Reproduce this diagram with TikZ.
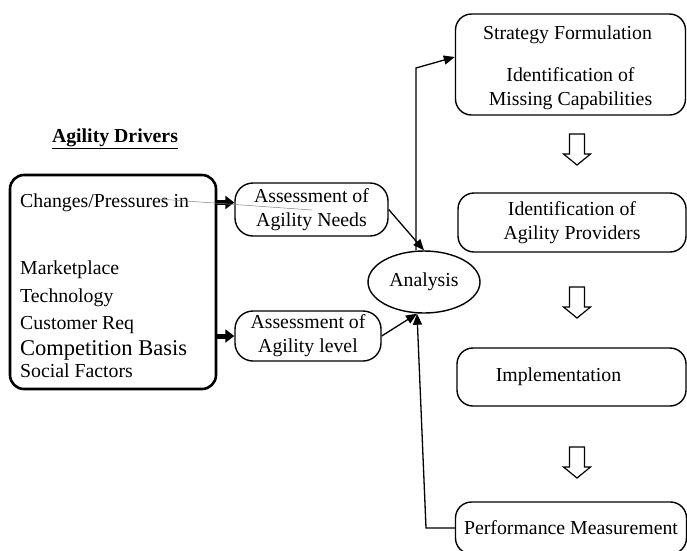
\documentclass[tikz,border=0pt]{standalone}
\usepackage{fontspec}
\setmainfont{Liberation Serif}
\usetikzlibrary{arrows.meta,shapes.geometric}
\begin{document}
\begin{tikzpicture}[x=1pt,y=-1pt,
  txt/.style={font=\fontsize{19.8}{24}\selectfont, inner sep=0pt, anchor=base west},
  bigbox/.style={draw, line width=2.6pt, rounded corners=14pt},
  pill/.style={draw, line width=1.4pt, rounded corners=18pt, align=center,
    font=\fontsize{19.8}{24}\selectfont, inner sep=0pt},
  stage/.style={draw, line width=1.4pt, rounded corners=16pt, align=center,
    font=\fontsize{19.8}{24}\selectfont, inner sep=0pt},
  heavy/.style={line width=5pt, -{Triangle[length=9pt,width=13pt]}},
  feed/.style={line width=1.3pt, -{Triangle[length=11pt,width=9pt]}},
  hollow/.pic={\draw[line width=1.2pt, fill=white, line join=miter]
    (-7.5,0) -- (7.5,0) -- (7.5,20) -- (13.5,20) -- (0,31) -- (-13.5,20) -- (-7.5,20) -- cycle;}
]
\clip (0,0) rectangle (687,550);
\fill[white] (0,0) rectangle (687,550);

% heading
\node[font=\fontsize{19.8}{22}\selectfont\bfseries, inner sep=0pt, anchor=base] (head) at (115,142)
  {\underline{Agility Drivers}};

% agility drivers box and its list
\node[bigbox, minimum width=206pt, minimum height=214pt] (src) at (113,282) {};
\node[txt] (l1) at (20,207) {Changes/Pressures in};
\node[txt] (l2) at (20,274) {Marketplace};
\node[txt] (l3) at (20,302) {Technology};
\node[txt] (l4) at (20,329) {Customer Req};
\node[txt, font=\fontsize{22.5}{24}\selectfont] (l5) at (20,355) {Competition Basis};
\node[txt] (l6) at (20,377) {Social Factors};

% assessments and analysis
\node[pill, minimum width=153pt, minimum height=53pt] (needs) at (311.5,209.5) {Assessment of\\Agility Needs};
\node[pill, minimum width=146pt, minimum height=50pt] (level) at (308,336) {Assessment of\\Agility level};
\node[draw, ellipse, line width=1.4pt, minimum width=112pt, minimum height=62pt,
  font=\fontsize{19.8}{22}\selectfont, inner sep=0pt] (analysis) at (424,282) {Analysis};

% stages on the right
\node[stage, minimum width=230pt, minimum height=101pt] (strategy) at (570.5,64.5) {};
\node[align=center, font=\fontsize{19.8}{24}\selectfont, inner sep=0pt] (strategytext)
  at ([yshift=-3.5pt]strategy.center)
  {\hspace*{-6pt}Strategy Formulation\\[18pt]Identification of\\Missing Capabilities};
\node[stage, minimum width=228pt, minimum height=59pt] (providers) at (572,222.5)
  {Identification of\\Agility Providers};
\node[stage, minimum width=229pt, minimum height=58pt] (impl) at (571.5,377)
  {Implementation\hspace*{26pt}};
\node[stage, minimum width=231pt, minimum height=52pt] (perf) at (571,528)
  {Performance Measurement};

\pic at (577,134) {hollow};
\pic at (577,287) {hollow};
\pic at (577,447) {hollow};

% connectors
\draw[heavy] ([yshift=7pt]needs.west -| src.east) -- ([yshift=7pt]needs.west);
\draw[heavy] (level.west -| src.east) -- (level.west);
\draw[gray, line width=0.5pt] (158,199) -- (312,210);
\draw[feed] (needs.east) -- (analysis.north);
\coordinate (hub) at ([xshift=-7pt]analysis.south);
\draw[feed] (level.east) -- (hub);
\coordinate (up) at (416,68);
\draw[feed] ([xshift=-8pt]analysis.north) -- (up) -- ([yshift=7.5pt]strategy.west);
\coordinate (down) at (426,528);
\draw[feed] (perf.west) -- (down) -- (hub);
\end{tikzpicture}
\end{document}
